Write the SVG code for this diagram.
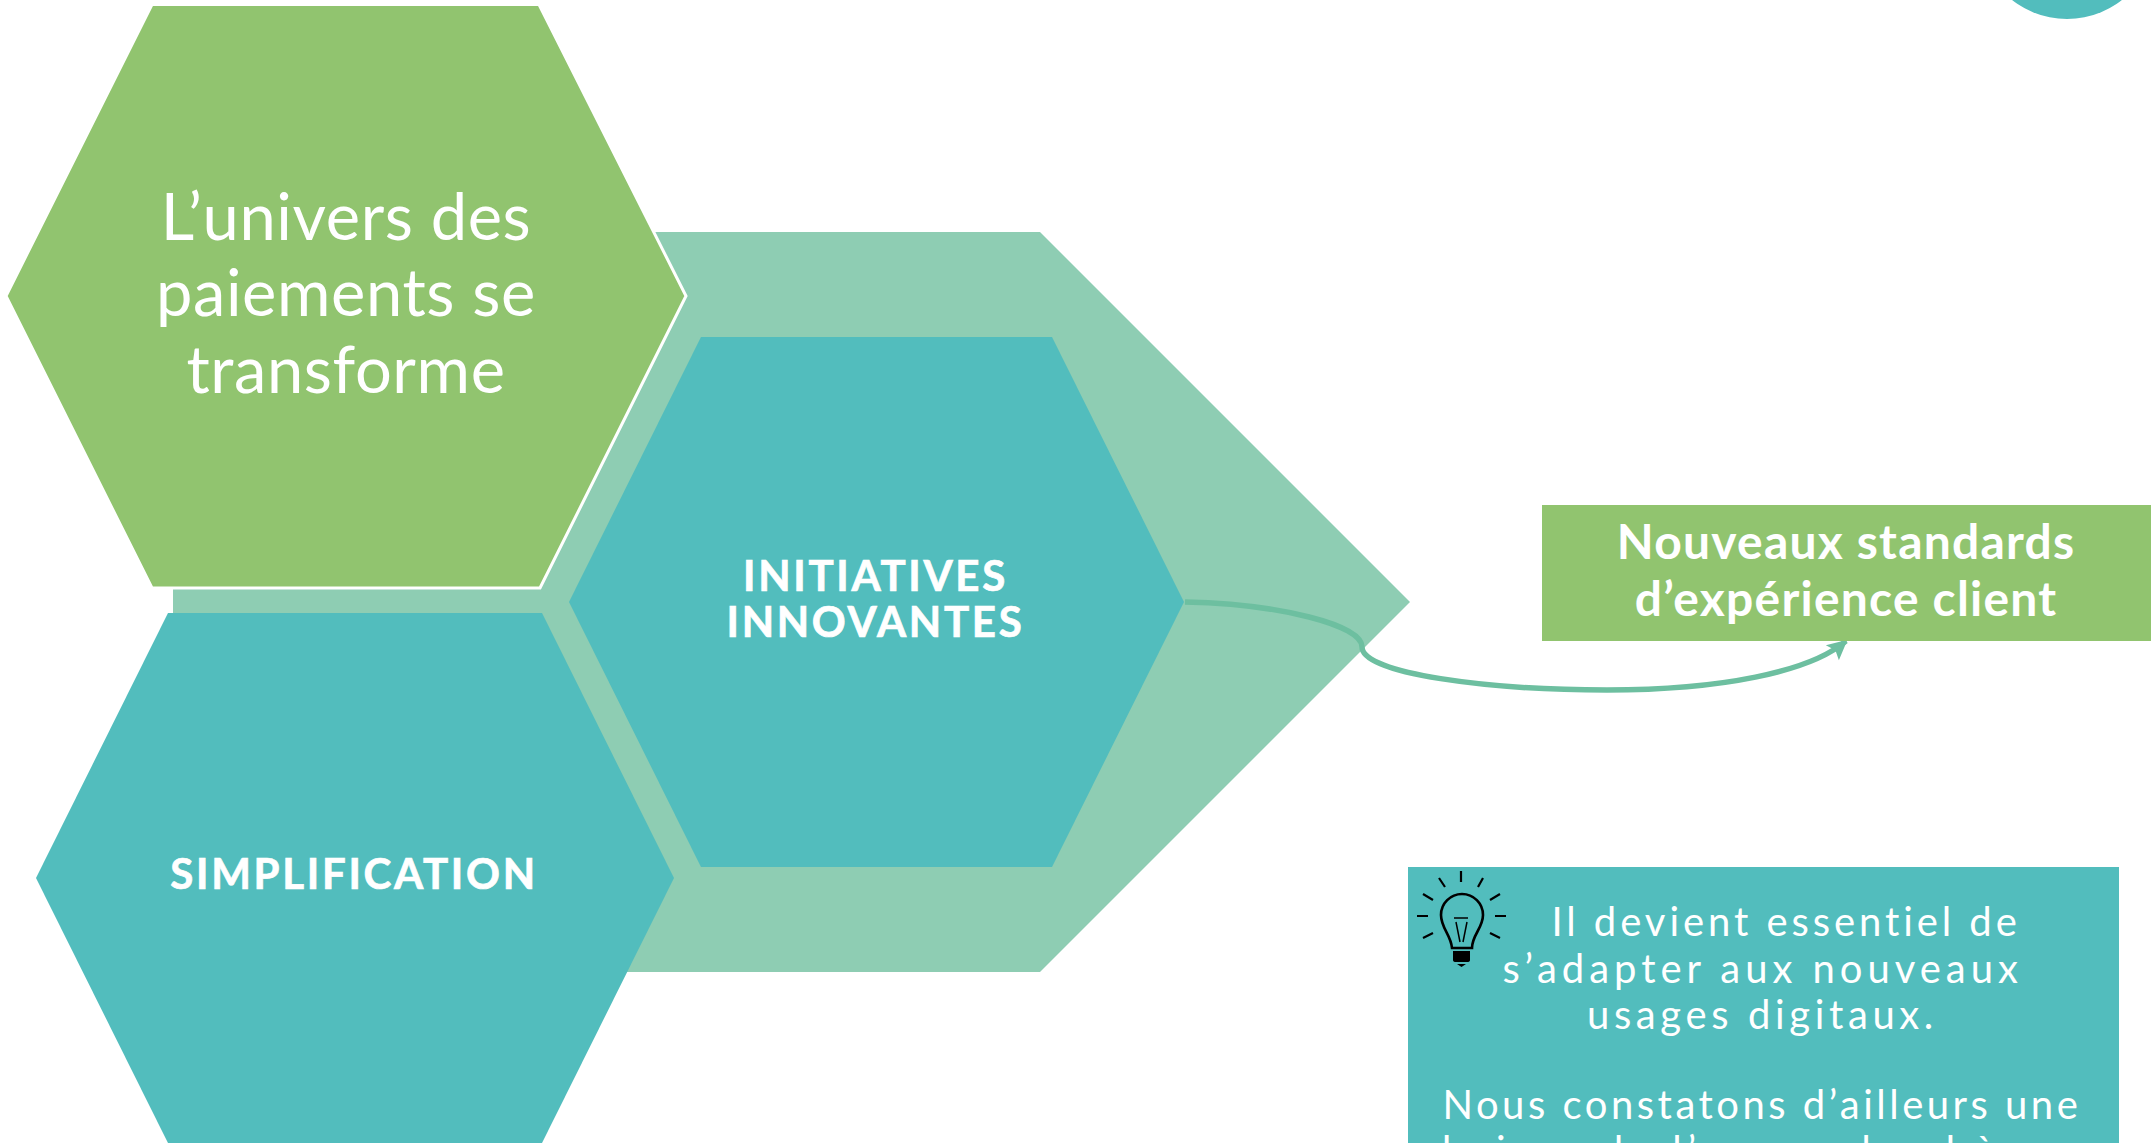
<svg xmlns="http://www.w3.org/2000/svg" width="2151" height="1143" viewBox="0 0 2151 1143">
<style>
text{fill:#fff;text-anchor:middle}
.big{font-family:"Lato","Noto Sans",sans-serif;font-weight:400;font-size:65px;letter-spacing:.6px}
.cap{font-family:"Lato","Noto Sans",sans-serif;font-weight:700;font-size:42px;letter-spacing:2.7px;stroke:#fff;stroke-width:.7px}
.std{font-family:"Lato","Noto Sans",sans-serif;font-weight:700;font-size:48px;letter-spacing:1.2px}
.note{font-family:"Lato","Noto Sans",sans-serif;font-weight:400;font-size:40px;letter-spacing:3.7px}
.teal{fill:#52BDBD}
.green{fill:#91C46F}
.bulb{fill:none;stroke:#000;stroke-width:2.6}
.thin{stroke-width:1.5}
.ray{stroke-width:2.2}
</style>
<defs>
<marker id="head" markerUnits="userSpaceOnUse" markerWidth="26" markerHeight="26" refX="20" refY="10" orient="auto">
<path d="M22,10 L2,0 L6,10 L2,20 Z" fill="#6DBFA0"/>
</marker>
</defs>
<rect width="2151" height="1143" fill="#fff"/>
<g id="corner"><circle class="teal" cx="2067" cy="-70" r="89"/></g>
<g id="backdrop"><polygon points="173,232 1040,232 1410,602 1040,972 173,972" fill="#8ECDB3"/></g>
<g id="univers">
<polygon class="green" points="152,4.500 539,4.500 686,296 540,588 152,588 6,296" stroke="#fff" stroke-width="3"/>
<text class="big" x="346" y="239.500">L’univers des</text>
<text class="big" x="346" y="316">paiements se</text>
<text class="big" x="346" y="392.500">transforme</text>
</g>
<g id="simplification">
<polygon class="teal" points="168,613 542,613 674,878 542,1143 168,1143 36,878"/>
<text class="cap" x="354" y="889">SIMPLIFICATION</text>
</g>
<g id="initiatives">
<polygon class="teal" points="701,337 1052,337 1184,602 1052,867 701,867 569,602"/>
<text class="cap" x="875.500" y="591">INITIATIVES</text>
<text class="cap" x="875.500" y="637">INNOVANTES</text>
</g>
<g id="connectors">
<path d="M1185,602 C1280,604 1362,625 1362,647 C1362,674 1490,690 1607,690 C1720,690 1810,672 1846,641" fill="none" stroke="#6DBFA0" stroke-width="5.500" marker-end="url(#head)"/>
</g>
<g id="standards">
<rect class="green" x="1542" y="505" width="609" height="136"/>
<text class="std" x="1846" y="559">Nouveaux standards</text>
<text class="std" x="1846" y="616">d’expérience client</text>
</g>
<g id="note">
<rect class="teal" x="1408" y="867" width="711" height="276"/>
<text class="note" x="1786" y="936" textLength="469" lengthAdjust="spacing">Il devient essentiel de</text>
<text class="note" x="1762" y="983" textLength="519" lengthAdjust="spacing">s’adapter aux nouveaux</text>
<text class="note" x="1762" y="1029" textLength="350" lengthAdjust="spacing">usages digitaux.</text>
<text class="note" x="1762" y="1119" textLength="639" lengthAdjust="spacing">Nous constatons d’ailleurs une</text>
<text class="note" x="1762" y="1165" textLength="640" lengthAdjust="spacing">baisse de l’usage du chèque</text>
</g>
<g id="bulb">
<path class="bulb" d="M1452,948 C1451,935 1441,928 1441,915 A21,21 0 0 1 1483,915 C1483,928 1472,935 1472,948 Z"/>
<path class="bulb thin" d="M1456,922 L1460,942 M1467,922 L1463,942 M1454,918 H1468"/>
<path d="M1453,951 H1470 V960 Q1470,962 1467,962 H1456 Q1453,962 1453,960 Z M1457,964 H1466 L1461.500,967 Z" fill="#000"/>
<path class="bulb ray" d="M1461,871 V882 M1439,878 L1445,887 M1483,878 L1478,887 M1423,894 L1433,900 M1500,894 L1490,900 M1417,916 H1428 M1495,916 H1506 M1423,938 L1433,933 M1500,938 L1490,933"/>
</g>
</svg>
